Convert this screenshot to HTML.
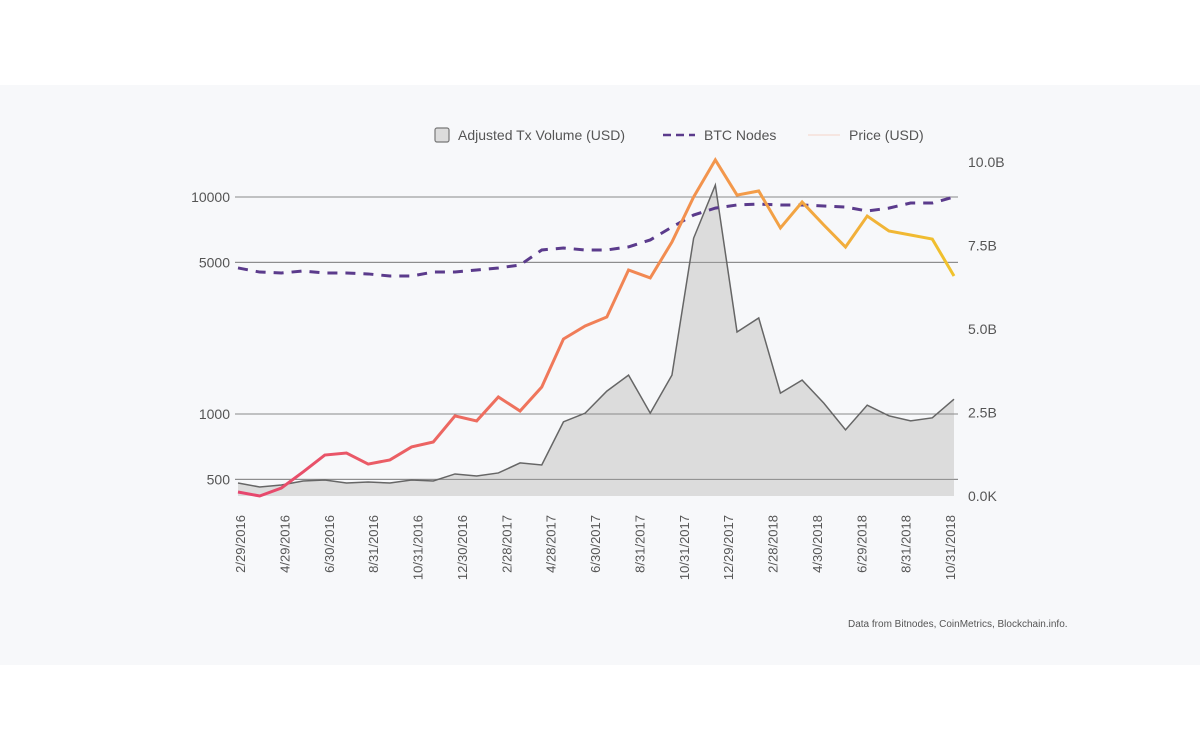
<!DOCTYPE html>
<html><head><meta charset="utf-8"><style>
body{margin:0;width:1200px;height:751px;background:#fff;overflow:hidden;font-family:"Liberation Sans",sans-serif}
#panel{position:absolute;left:0;top:85px;width:1200px;height:580px;background:#f7f8fa}
svg{position:absolute;left:0;top:0}
</style></head><body>
<div id="panel"></div>
<svg id="chart" width="1200" height="751">
<defs><linearGradient id="pg" gradientUnits="userSpaceOnUse" x1="238" y1="0" x2="954" y2="0">
<stop offset="0" stop-color="#e6456e"/><stop offset="0.45" stop-color="#f07a5a"/><stop offset="0.7" stop-color="#f39a4a"/><stop offset="1" stop-color="#f0c22c"/></linearGradient></defs>
<g font-size="14" fill="#555">
<rect x="435" y="128" width="14" height="14" rx="2" fill="#dcdcdc" stroke="#777" stroke-width="1.2"/>
<text x="458" y="140">Adjusted Tx Volume (USD)</text>
<line x1="663" y1="135" x2="695" y2="135" stroke="#5b3b8c" stroke-width="2.5" stroke-dasharray="8,5"/>
<text x="704" y="140">BTC Nodes</text>
<line x1="808" y1="135" x2="840" y2="135" stroke="#f5d5c8" stroke-width="1"/>
<text x="849" y="140">Price (USD)</text>
</g>
<g id="plot"></g>
<text x="848" y="627" font-size="10" fill="#555">Data from Bitnodes, CoinMetrics, Blockchain.info.</text>
</svg>
<script>
const dates=["2/29/2016","4/29/2016","6/30/2016","8/31/2016","10/31/2016","12/30/2016","2/28/2017","4/28/2017","6/30/2017","8/31/2017","10/31/2017","12/29/2017","2/28/2018","4/30/2018","6/29/2018","8/31/2018","10/31/2018"];
const volumeB=[0.39,0.27,0.33,0.45,0.48,0.39,0.42,0.39,0.48,0.45,0.66,0.60,0.69,0.99,0.93,2.22,2.48,3.14,3.62,2.48,3.62,7.72,9.31,4.91,5.33,3.08,3.47,2.78,1.98,2.72,2.40,2.25,2.34,2.90];
const price=[437,419,456,541,647,661,588,614,705,743,980,929,1198,1032,1332,2216,2544,2800,4610,4236,6204,10000,14820,10210,10660,7200,9480,7430,5880,8170,6970,6680,6400,4325];
const nodes=[4710,4510,4465,4560,4465,4465,4420,4325,4325,4510,4510,4610,4710,4860,5700,5820,5700,5700,5890,6340,7270,8260,8890,9190,9280,9190,9190,9090,8990,8620,8890,9380,9380,10000];
const leftTicks=[10000,5000,1000,500];
const leftTickLabels=["10000","5000","1000","500"];
const rightTicks=[10,7.5,5,2.5,0];
const rightTickLabels=["10.0B","7.5B","5.0B","2.5B","0.0K"];

const NS="http://www.w3.org/2000/svg";
const g=document.getElementById('plot');
const X0=238,X1=954;
const x=i=>X0+(X1-X0)*i/(price.length-1);
const yL=v=>414-217*Math.log10(v/1000);
const yR=v=>496-v/2.5*83.5;
function mk(t,a){const e=document.createElementNS(NS,t);for(const k in a)e.setAttribute(k,a[k]);g.appendChild(e);return e;}

leftTicks.forEach((v,i)=>{
 const l=mk('line',{x1:235,x2:958,y1:yL(v),y2:yL(v),stroke:'#8a8a8a','stroke-width':1});
 
 
 const t=mk('text',{x:230,y:yL(v)+5,'text-anchor':'end','font-size':14,fill:'#555'});
 t.textContent=leftTickLabels[i];
 
 
});
rightTicks.forEach((v,i)=>{
 const t=mk('text',{x:968,y:yR(v)+5,'font-size':14,fill:'#555'});
 t.textContent=rightTickLabels[i];
 
 
});
let d='M'+x(0)+','+yR(0);
volumeB.forEach((v,i)=>d+=' L'+x(i)+','+yR(v));
d+=' L'+x(volumeB.length-1)+','+yR(0)+' Z';
const area=mk('path',{d:d,fill:'#dcdcdc',stroke:'none'});


leftTicks.forEach(v=>{const l=mk('line',{x1:235,x2:958,y1:yL(v),y2:yL(v),stroke:'#8a8a8a','stroke-width':1});
 
 });
const vl=mk('polyline',{points:volumeB.map((v,i)=>x(i)+','+yR(v)).join(' '),fill:'none',stroke:'#666','stroke-width':1.5});


const nl=mk('polyline',{points:nodes.map((v,i)=>x(i)+','+yL(v)).join(' '),fill:'none',stroke:'#5b3b8c','stroke-width':3,'stroke-dasharray':'10,8'});


const pl=mk('polyline',{points:price.map((v,i)=>x(i)+','+yL(v)).join(' '),fill:'none',stroke:'url(#pg)','stroke-width':3,'stroke-linejoin':'miter'});


dates.forEach((s,i)=>{
 const cx=240+(950-240)*i/(dates.length-1);
 const t=mk('text',{x:0,y:0,'text-anchor':'end','font-size':13,fill:'#555',transform:'translate('+(cx+5)+',515) rotate(-90)'});
 t.textContent=s;
 
 
});
</script>
</body></html>
